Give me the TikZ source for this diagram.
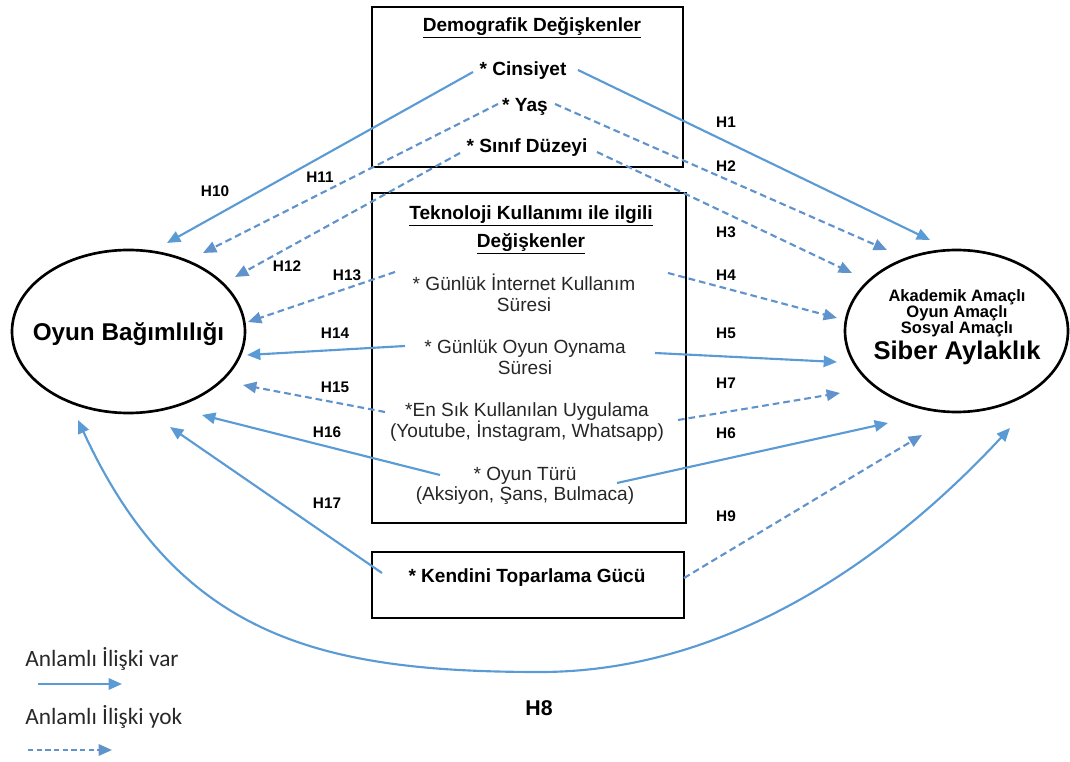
\documentclass[tikz,border=0pt]{standalone}
\usepackage{fontspec}
\setmainfont{Liberation Sans}
\newfontfamily\legendfont{Carlito}
\usetikzlibrary{shapes.geometric,arrows.meta}
\definecolor{arrblue}{RGB}{91,155,213}
\definecolor{dashblue}{RGB}{96,146,204}
\definecolor{legtext}{RGB}{40,40,40}
\begin{document}
\begin{tikzpicture}[x=0.75pt,y=-0.75pt,
  >={Triangle[length=10pt,width=8.5pt]},
  box/.style={draw=black,line width=2pt,rectangle,inner sep=0pt},
  ell/.style={draw=black,line width=2pt,ellipse,inner sep=0pt},
  sol/.style={draw=arrblue,line width=1.6pt,->,color=arrblue},
  dsh/.style={draw=dashblue,line width=1.6pt,->,color=dashblue,dash pattern=on 5pt off 3pt},
  hl/.style={font=\bfseries\fontsize{11.5}{13}\selectfont,inner sep=0pt},
  ttl/.style={font=\bfseries\fontsize{14.3}{21}\selectfont,inner sep=0pt,align=center},
  itm/.style={font=\fontsize{14.3}{15.5}\selectfont,inner sep=0pt,align=center,text=black!85},
  bitm/.style={font=\bfseries\fontsize{14.3}{15.5}\selectfont,inner sep=0pt},
  big/.style={font=\bfseries\fontsize{19.2}{22}\selectfont,inner sep=0pt},
  sml/.style={font=\bfseries\fontsize{12.4}{13}\selectfont,inner sep=0pt},
  leg/.style={font=\legendfont\fontsize{17.5}{19}\selectfont,inner sep=0pt,anchor=west,text=legtext}
]
\useasboundingbox (0,0) rectangle (1070,762);

% boxes
\node[box,minimum width=233.25pt,minimum height=120pt] (demo) at (527.5,87) {};
\node[box,minimum width=235.5pt,minimum height=247.5pt] (tech) at (529,358) {};
\node[box,minimum width=234pt,minimum height=49.5pt] (kend) at (528,585) {};

% ellipses
\node[ell,minimum width=174.75pt,minimum height=122.25pt] (oyun) at (128.5,331.5) {};
\node[big,font=\bfseries\fontsize{18.2}{22}\selectfont] (oyuntxt) at (128.5,334) {Oyun Bağımlılığı};
\node[ell,minimum width=167.25pt,minimum height=121.5pt] (siber) at (956.5,331) {};
\node[sml] (s1) at (957,297) {Akademik Amaçlı};
\node[sml] (s2) at (957,313) {Oyun Amaçlı};
\node[sml] (s3) at (957,329) {Sosyal Amaçlı};
\node[big] (s4) at (957,353) {Siber Aylaklık};

% box texts
\node[ttl] (demottl) at (532,28) {\underline{Demografik Değişkenler}};
\node[bitm] (cins) at (523,71) {* Cinsiyet};
\node[bitm] (yas) at (525,107) {* Yaş};
\node[bitm] (sinif) at (527,148) {* Sınıf Düzeyi};

\node[ttl] (techttl) at (531,230) {\underline{Teknoloji Kullanımı ile ilgili}\\\underline{Değişkenler}};
\node[itm] (inet) at (524,293) {* Günlük İnternet Kullanım\\Süresi};
\node[itm] (oyns) at (525,357) {* Günlük Oyun Oynama\\Süresi};
\node[itm] (uyg) at (527,422) {*En Sık Kullanılan Uygulama\\(Youtube, İnstagram, Whatsapp)};
\node[itm] (tur) at (525,486) {* Oyun Türü\\(Aksiyon, Şans, Bulmaca)};

\node[bitm] (kendtxt) at (527,578) {* Kendini Toparlama Gücü};

% arrow end points
\coordinate (a1) at (578,70);   \coordinate (b1) at (930,240);
\coordinate (a2) at (555,104);  \coordinate (b2) at (887,250);
\coordinate (a3) at (597,152);  \coordinate (b3) at (852,273);
\coordinate (a4) at (668,273);  \coordinate (b4) at (837,318);
\coordinate (a5) at (655,353);  \coordinate (b5) at (837,362);
\coordinate (a7) at (678,420);  \coordinate (b7) at (840,393);
\coordinate (a6) at (617,483);  \coordinate (b6) at (888,423);
\coordinate (a9) at (684,578);  \coordinate (b9) at (922,435);
\coordinate (a10) at (473,72);  \coordinate (b10) at (167,243);
\coordinate (a11) at (498,104); \coordinate (b11) at (203,253);
\coordinate (a12) at (460,153); \coordinate (b12) at (235,277);
\coordinate (a13) at (395,272); \coordinate (b13) at (248,322);
\coordinate (a14) at (405,346); \coordinate (b14) at (247,355);
\coordinate (a15) at (385,412); \coordinate (b15) at (243,385);
\coordinate (a16) at (440,475); \coordinate (b16) at (202,415);
\coordinate (a17) at (382,573); \coordinate (b17) at (170,427);
\coordinate (h8a) at (78,420);  \coordinate (h8m) at (540,672); \coordinate (h8b) at (1010,428);

% connectors
\draw[sol] (a1) -- (b1);
\draw[dsh] (a2) -- (b2);
\draw[dsh] (a3) -- (b3);
\draw[dsh] (a4) -- (b4);
\draw[sol] (a5) -- (b5);
\draw[dsh] (a7) -- (b7);
\draw[sol] (a6) -- (b6);
\draw[dsh] (a9) -- (b9);
\draw[sol] (a10) -- (b10);
\draw[dsh] (a11) -- (b11);
\draw[dsh] (a12) -- (b12);
\draw[dsh] (a13) -- (b13);
\draw[sol] (a14) -- (b14);
\draw[dsh] (a15) -- (b15);
\draw[sol] (a16) -- (b16);
\draw[sol] (a17) -- (b17);
\draw[sol,<->] (h8a) .. controls (178,637) and (320,672) .. (h8m) .. controls (720,672) and (880,568) .. (h8b);

% labels
\node[hl] (l1) at (726,122) {H1};
\node[hl] (l2) at (726,166) {H2};
\node[hl] (l3) at (726,232) {H3};
\node[hl] (l4) at (726,275) {H4};
\node[hl] (l5) at (726,333) {H5};
\node[hl] (l7) at (726,383) {H7};
\node[hl] (l6) at (726,433) {H6};
\node[hl] (l9) at (726,516) {H9};
\node[hl] (l10) at (215,191) {H10};
\node[hl] (l11) at (320,177) {H11};
\node[hl] (l12) at (287,266) {H12};
\node[hl] (l13) at (347,275) {H13};
\node[hl] (l14) at (335,333) {H14};
\node[hl] (l15) at (335,387) {H15};
\node[hl] (l16) at (327,432) {H16};
\node[hl] (l17) at (327,503) {H17};
\node[font=\bfseries\fontsize{16}{18}\selectfont,inner sep=0pt] (l8) at (539,708) {H8};

% legend
\node[leg] (legvar) at (25,659) {Anlamlı İlişki var};
\coordinate (lv1) at (38,684); \coordinate (lv2) at (122,684);
\draw[sol] (lv1) -- (lv2);
\node[leg] (legyok) at (25,717) {Anlamlı İlişki yok};
\coordinate (ly1) at (28,750); \coordinate (ly2) at (112,750);
\draw[dsh,dash pattern=on 4pt off 2.5pt] (ly1) -- (ly2);
\end{tikzpicture}
\end{document}
